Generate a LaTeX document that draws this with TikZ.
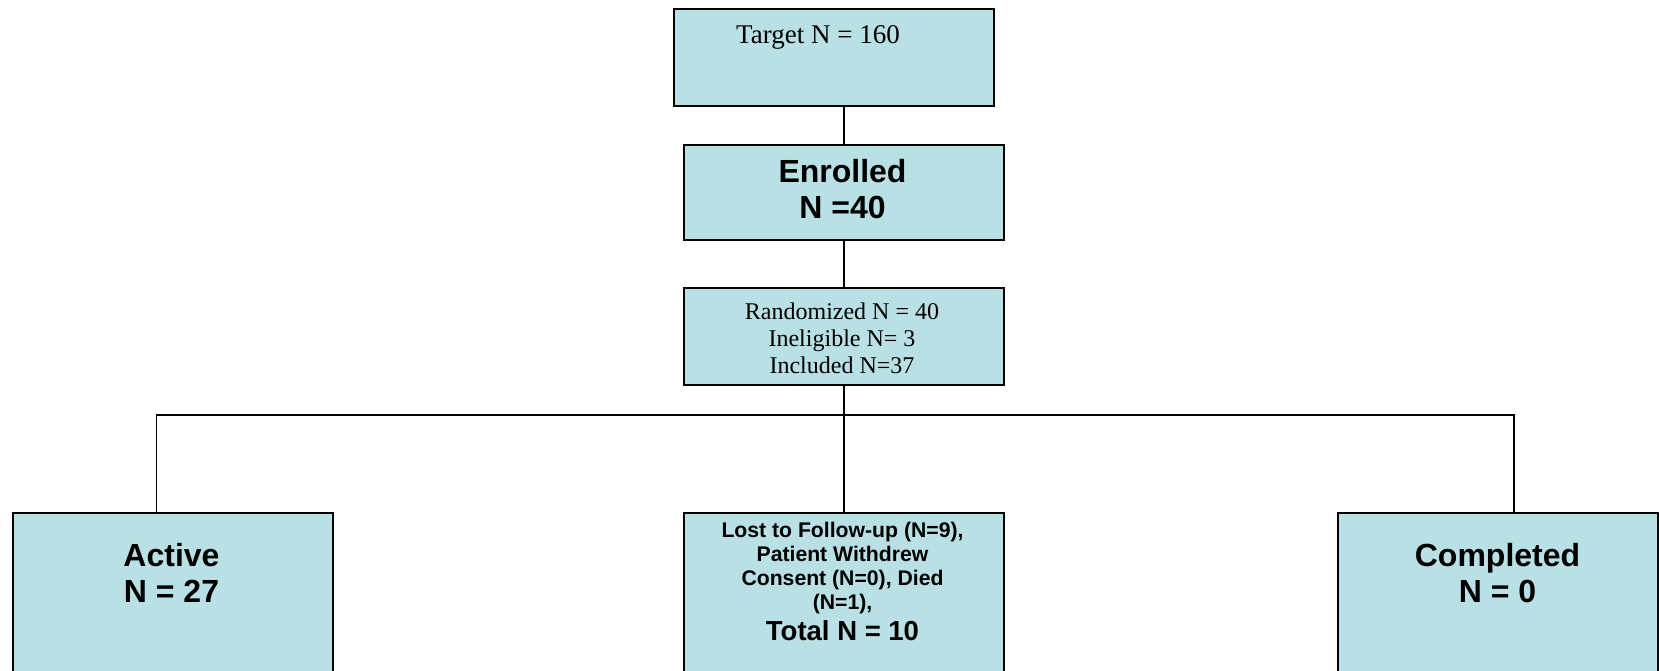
\documentclass[tikz,border=0pt]{standalone}
\usepackage{fontspec}
\setmainfont{Liberation Serif}
\setsansfont{Liberation Sans}
\usepackage{xcolor}
\usetikzlibrary{positioning}
\definecolor{boxfill}{RGB}{185,224,228}
\tikzset{
	box/.style={draw, line width=2pt, fill=boxfill, anchor=north west,
			inner sep=0pt, minimum width=320pt},
	link/.style={line width=1.5pt},
	serif/.style={font=\fontsize{24}{26.7}\selectfont, align=center,
			anchor=base, inner sep=0pt},
	heavy/.style={font=\sffamily\bfseries\fontsize{32}{35.5}\selectfont,
			align=center, anchor=base, inner sep=0pt},
	small/.style={font=\sffamily\bfseries\fontsize{21.2}{24}\selectfont,
			align=center, anchor=base, inner sep=0pt}
}

\begin{document}
\begin{tikzpicture}[x=1pt, y=-1pt]
	\useasboundingbox (0,0) rectangle (1659,670);
	\clip (0,0) rectangle (1659,670);

	% boxes
	\node (target) [box, minimum height=97pt] at (673,8) {};
	\node (enrolled) [box, minimum height=95pt] at (683,144) {};
	\node (random) [box, minimum height=97pt] at (683,287) {};
	\node (active) [box, minimum height=200pt] at (12,512) {};
	\node (lost) [box, minimum height=200pt] at (683,512) {};
	\node (done) [box, minimum height=200pt] at (1337,512) {};

	% texts (base = last line)
	\node (target-txt) [serif, font=\fontsize{27}{30}\selectfont] at (818,43) {Target N = 160};
	\node (enrolled-txt) [heavy] at (842.5,218) {Enrolled\\N =40};
	\node (random-txt) [serif] at (842,373) {Randomized N = 40\\Ineligible N= 3\\Included N=37};
	\node (active-txt) [heavy] at (171.5,602) {Active\\N = 27};
	\node (lost-txt) [small] at (842.5,609.5) {Lost to Follow-up (N=9),\\Patient Withdrew\\Consent (N=0), Died\\(N=1),};
	\node (total-txt) [small, font=\sffamily\bfseries\fontsize{27.5}{30}\selectfont] at (842.5,640.5) {Total N = 10};
	\node (done-txt) [heavy] at (1497.5,602) {Completed\\N = 0};

	% connectors
	\draw[link] (enrolled.north) -- (enrolled.north |- target.south);
	\draw[link] (enrolled.south) -- (random.north);
	\draw[link] (random.south) -- (lost.north);
	\coordinate (bus) at (843,415);
	\draw[link] ([xshift=-16.5pt]active.north) |- (bus) -| ([xshift=16pt]done.north);

\end{tikzpicture}
\end{document}
